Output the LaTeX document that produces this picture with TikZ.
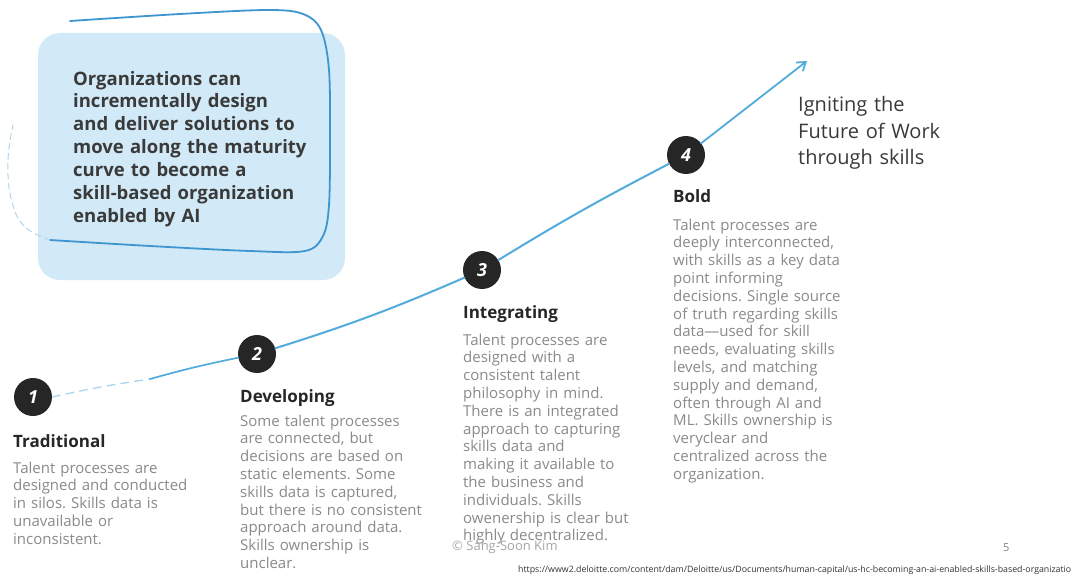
\documentclass[tikz,border=0pt]{standalone}
\usepackage{fontspec}
\setmainfont{Open Sans}
\usetikzlibrary{arrows.meta}
\definecolor{boxfill}{HTML}{D2EAF7}
\definecolor{penblue}{HTML}{3D96CF}
\definecolor{curveblue}{HTML}{52ACDB}
\definecolor{ink}{HTML}{262626}
\definecolor{bodygray}{HTML}{8A8A8A}
\definecolor{titlegray}{HTML}{3A3A3A}
\frenchspacing

\begin{document}
\begin{tikzpicture}[x=1pt,y=-1pt,
  stage/.style={circle,fill=ink,minimum size=38pt,inner sep=0pt,text=white,
    font=\fontsize{18}{18}\selectfont\bfseries\itshape},
  heading/.style={anchor=base west,inner sep=0pt,text=ink,
    font=\fontsize{17}{20}\selectfont\bfseries},
  desc/.style={anchor=base west,inner sep=0pt,text=bodygray,text width=240pt,
    align=left,font=\fontsize{15}{17.8}\selectfont},
  lead/.style={anchor=base west,inner sep=0pt,text=titlegray,text width=300pt,
    align=left,font=\fontsize{18.5}{22.9}\selectfont\bfseries},
  goal/.style={anchor=base west,inner sep=0pt,text=titlegray,text width=200pt,
    align=left,font=\fontsize{20}{26.5}\selectfont},
  curve/.style={draw=curveblue,line width=2pt,line cap=round},
  pen/.style={draw=penblue,line width=1.8pt,line cap=round,line join=round}
]
\useasboundingbox (0,0) rectangle (1080,578);
\fill[white] (0,0) rectangle (1080,578);

% light blue panel with its hand-drawn frame
\fill[boxfill,rounded corners=22pt] (38,33) rectangle (345,280);
\draw[pen] plot[smooth,tension=0.55] coordinates
  {(70,21) (180,14) (268,10) (303,14) (321,30) (329,70) (330,140) (329,205)
   (323,236) (305,251) (250,251) (150,246) (50,240)};
\draw[penblue!40,line width=1pt,dash pattern=on 6pt off 4pt,line cap=round]
  plot[smooth,tension=0.7] coordinates {(50,240) (24,226) (11,198) (8,160) (13,125)};
\node[lead] (msg) at (73,85) {Organizations can\\incrementally design\\and deliver solutions to\\move along the maturity\\curve to become a\\skill-based organization\\enabled by AI};

% maturity stages
\node[stage] (c1) at (33,397) {1};
\node[stage] (c2) at (257,354) {2};
\node[stage] (c3) at (482,270) {3};
\node[stage] (c4) at (686,155) {4};
\coordinate (m12) at (150,379);
\coordinate (tip) at (807,61);

% the maturity curve
\draw[curveblue!50,line width=1.3pt,dash pattern=on 8pt off 6pt,line cap=round]
  (c1.east) to[bend left=2] (m12);
\draw[curve,line width=1.7pt] (m12) to[bend left=2] (c2);
\draw[curve] (c2) to[bend right=3] (c3);
\draw[curve] (c3) to[bend left=2] (c4);
\draw[curve,line width=1.8pt,-{Straight Barb[length=8pt,width=11pt,line width=1.8pt]}] (c4) -- (tip);

\node[goal] (goal) at (798,112) {Igniting the\\Future of Work\\through skills};

\node[heading] (h1) at (13,447) {Traditional};
\node[desc] (d1) at (13,473) {Talent processes are\\designed and conducted\\in silos. Skills data is\\unavailable or\\inconsistent.};

\node[heading] (h2) at (240,402) {Developing};
\node[desc] (d2) at (240,426) {Some talent processes\\are connected, but\\decisions are based on\\static elements. Some\\skills data is captured,\\but there is no consistent\\approach around data.\\Skills ownership is\\unclear.};

\node[heading] (h3) at (463,318) {Integrating};
\node[desc] (d3) at (463,345) {Talent processes are\\designed with a\\consistent talent\\philosophy in mind.\\There is an integrated\\approach to capturing\\skills data and\\making it available to\\the business and\\individuals. Skills\\owenership is clear but\\highly decentralized.};

\node[heading] (h4) at (673,202) {Bold};
\node[desc] (d4) at (673,230) {Talent processes are\\deeply interconnected,\\with skills as a key data\\point informing\\decisions. Single source\\of truth regarding skills\\data---used for skill\\needs, evaluating skills\\levels, and matching\\supply and demand,\\often through AI and\\ML. Skills ownership is\\veryclear and\\centralized across the\\organization.};

% footer
\node[anchor=base west,inner sep=0pt,text=black!35,font=\fontsize{13}{13}\selectfont] (copy) at (452,550) {© Sang-Soon Kim};
\node[anchor=base west,inner sep=0pt,text=black!50,font=\fontsize{11}{11}\selectfont] (page) at (1003,551) {5};
\node[anchor=base west,inner sep=0pt,text=black!80,font=\fontsize{8.8}{8.8}\selectfont] (src) at (518,572) {https://www2.deloitte.com/content/dam/Deloitte/us/Documents/human-capital/us-hc-becoming-an-ai-enabled-skills-based-organizatio};
\end{tikzpicture}
\end{document}
